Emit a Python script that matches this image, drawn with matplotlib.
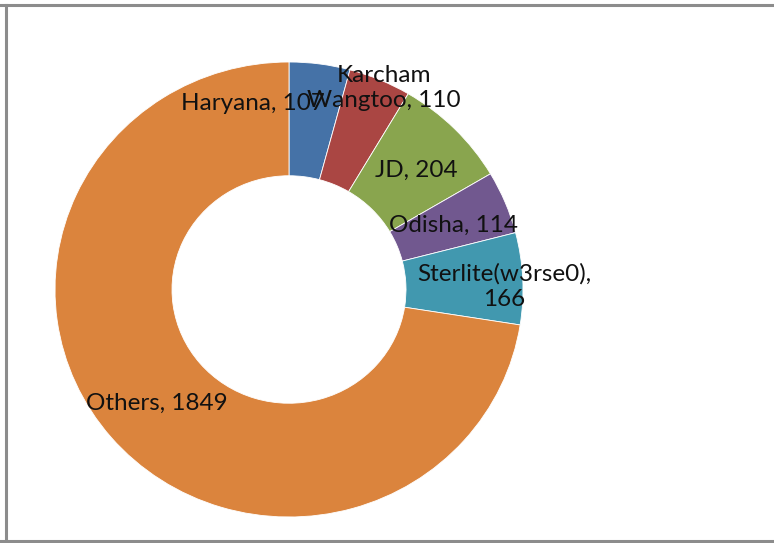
import matplotlib
matplotlib.use("Agg")
import matplotlib.pyplot as plt
from matplotlib.lines import Line2D

names = ["Haryana", "Karcham\nWangtoo", "JD", "Odisha", "Sterlite(w3rse0),\n", "Others"]
values = [107, 110, 204, 114, 166, 1849]
colors = ["#4572A7", "#AA4643", "#89A54E", "#71588F", "#4198AF", "#DB843D"]
# label centres, axes data units
label_pos = [(-0.154, 0.819), (0.406, 0.885), (0.543, 0.524),
             (0.701, 0.282), (0.919, 0.013), (-0.564, -0.502)]

plt.rcParams['font.family'] = ['Lato', 'DejaVu Sans']

fig = plt.figure(figsize=(7.74, 5.43), dpi=100)
ax = fig.add_axes([55 / 774, 26 / 543, 468 / 774, 455 / 543])
ax.pie(values, colors=colors, startangle=90, counterclock=False, radius=1,
       wedgeprops=dict(width=0.5, edgecolor="white", linewidth=0.6))
ax.set_aspect("auto")
ax.set_xlim(-1, 1)
ax.set_ylim(-1, 1)

for name, v, (x, y) in zip(names, values, label_pos):
    if name.endswith("\n"):
        txt = name + str(v)
    else:
        txt = name + ", " + str(v)
    ax.text(x, y, txt, ha="center", va="center", fontsize=17.5, color="#111111",
            multialignment="center", linespacing=1.25)

# chart frame edges (cropped border)
for xs, ys in [((0, 1), (1 - 5 / 543, 1 - 5 / 543)),
               ((6 / 774, 6 / 774), (2 / 543, 1 - 5 / 543)),
               ((0, 1), (2 / 543, 2 / 543))]:
    fig.add_artist(Line2D(xs, ys, color="#8c8c8c", linewidth=2.2))

fig.savefig("out.png", dpi=100)
